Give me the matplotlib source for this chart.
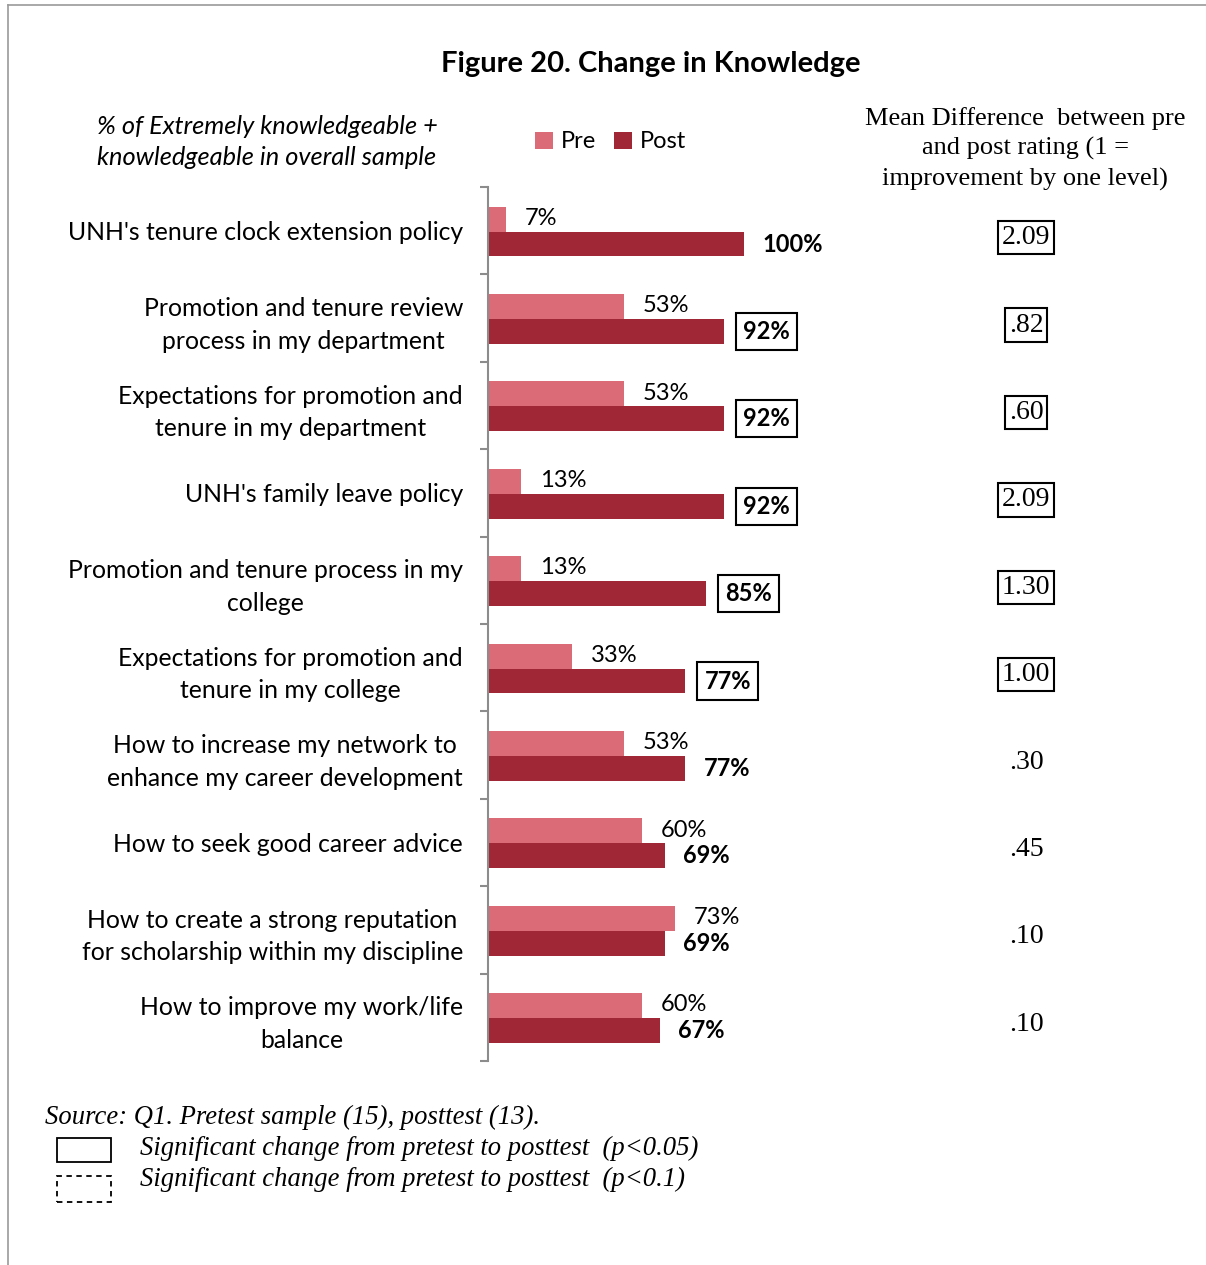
import matplotlib
matplotlib.use("Agg")
import matplotlib.pyplot as plt
from matplotlib.patches import Rectangle
from matplotlib.lines import Line2D
from matplotlib.transforms import blended_transform_factory
import numpy as np

# survey items, top to bottom
items = [
    "UNH's tenure clock extension policy",
    "Promotion and tenure review\nprocess in my department",
    "Expectations for promotion and\ntenure in my department",
    "UNH's family leave policy",
    "Promotion and tenure process in my\ncollege",
    "Expectations for promotion and\ntenure in my college",
    "How to increase my network to\nenhance my career development",
    "How to seek good career advice",
    "How to create a strong reputation\nfor scholarship within my discipline",
    "How to improve my work/life\nbalance",
]
pre = [7, 53, 53, 13, 13, 33, 53, 60, 73, 60]
post = [100, 92, 92, 92, 85, 77, 77, 69, 69, 67]
post_sig = [False, True, True, True, True, True, False, False, False, False]
mean_diff = ["2.09", ".82", ".60", "2.09", "1.30", "1.00", ".30", ".45", ".10", ".10"]
mean_sig = [True, True, True, True, True, True, False, False, False, False]

PRE_COLOR = "#DA6B77"
POST_COLOR = "#A02736"
SANS = "Lato"
SERIF = "Liberation Serif"

W, H = 1206, 1265
fig = plt.figure(figsize=(W / 100, H / 100), dpi=100)
fig.patch.set_facecolor("white")


def fx(px):
    return px / W


def fy(py):
    return 1 - py / H


# plot area: x from 488px (0%) to 744px (100%), rows from 187px to 1061px
ax = fig.add_axes([fx(488), fy(1061), 256 / W, (1061 - 187) / H])
ax.set_xlim(0, 100)
ax.set_ylim(len(items) - 0.5, -0.5)

y = np.arange(len(items))
h = 0.285
ax.barh(y - h / 2 + 0.01, pre, height=h, color=PRE_COLOR, label="Pre")
ax.barh(y + h / 2 + 0.01, post, height=h, color=POST_COLOR, label="Post")

for i in range(len(items)):
    ax.annotate(f"{pre[i]}%", xy=(pre[i], y[i] - h / 2), xytext=(13.5, 0),
                textcoords="offset points", va="center", ha="left",
                fontsize=17, family=SANS, annotation_clip=False)
    box = dict(boxstyle="square,pad=0.3", fc="white", ec="black", lw=1.5) if post_sig[i] else None
    ax.annotate(f"{post[i]}%", xy=(post[i], y[i] + h / 2 + 0.01),
                xytext=(14 if post_sig[i] else 13.5, 0),
                textcoords="offset points", va="center", ha="left",
                fontsize=17, fontweight="bold", family=SANS, bbox=box,
                annotation_clip=False)

# category labels and row separators
ax.set_yticks(y)
ax.set_yticklabels(items, fontsize=17.8, family=SANS, linespacing=1.5)
for lab in ax.get_yticklabels():
    lab.set_multialignment("center")
ax.tick_params(axis="y", which="major", length=0, pad=18)
ax.set_yticks(np.arange(-0.5, len(items)), minor=True)
ax.tick_params(axis="y", which="minor", length=6, width=1.5, color="#8C8C8C")
ax.set_xticks([])
for s in ["top", "right", "bottom"]:
    ax.spines[s].set_visible(False)
ax.spines["left"].set_color("#8C8C8C")
ax.spines["left"].set_linewidth(1.5)

# mean difference column
tr = blended_transform_factory(fig.transFigure, ax.transData)
for i, md in enumerate(mean_diff):
    box = dict(boxstyle="square,pad=0.15", fc="white", ec="black", lw=1.5) if mean_sig[i] else None
    fig.text(fx(1026), y[i] + 0.08, md, transform=tr, ha="center", va="center",
             fontsize=20, family=SERIF, bbox=box)

fig.text(fx(1025), fy(149), "Mean Difference  between pre\nand post rating (1 =\nimprovement by one level)",
         ha="center", va="center", fontsize=19, family=SERIF, linespacing=1.4)

# titles
fig.text(fx(651), fy(64), "Figure 20. Change in Knowledge", ha="center", va="center",
         fontsize=21, fontweight="bold", family=SANS)
fig.text(fx(267), fy(142), "% of Extremely knowledgeable +\nknowledgeable in overall sample",
         ha="center", va="center", fontsize=18.3, style="italic", family=SANS, linespacing=1.45)

handles, labels = ax.get_legend_handles_labels()
fig.legend(handles, labels, loc="center left", bbox_to_anchor=(fx(535), fy(142)), ncol=2,
           frameon=False, handlelength=0.75, handleheight=0.75, handletextpad=0.35,
           columnspacing=0.75, borderpad=0, borderaxespad=0,
           prop={"family": SANS, "size": 17})

# source and significance key
fig.text(fx(45), fy(1117), "Source: Q1. Pretest sample (15), posttest (13).", ha="left", va="center",
         fontsize=19.2, style="italic", family=SERIF)
fig.text(fx(140), fy(1148), "Significant change from pretest to posttest  (p<0.05)", ha="left",
         va="center", fontsize=19.2, style="italic", family=SERIF)
fig.text(fx(140), fy(1179), "Significant change from pretest to posttest  (p<0.1)", ha="left",
         va="center", fontsize=19.2, style="italic", family=SERIF)
fig.add_artist(Rectangle((fx(57), fy(1162)), 54 / W, 24 / H, transform=fig.transFigure,
                         fill=False, ec="black", lw=1.3))
fig.add_artist(Rectangle((fx(57), fy(1202)), 54 / W, 26 / H, transform=fig.transFigure,
                         fill=False, ec="black", lw=1.3, ls=(0, (3, 2.5))))

# outer frame (top and left edges)
fig.add_artist(Line2D([fx(8), 1], [fy(5), fy(5)], transform=fig.transFigure, color="#9A9A9A", lw=1.2))
fig.add_artist(Line2D([fx(8), fx(8)], [0, fy(5)], transform=fig.transFigure, color="#9A9A9A", lw=1.2))

fig.savefig("out.png", dpi=100, facecolor="white")
